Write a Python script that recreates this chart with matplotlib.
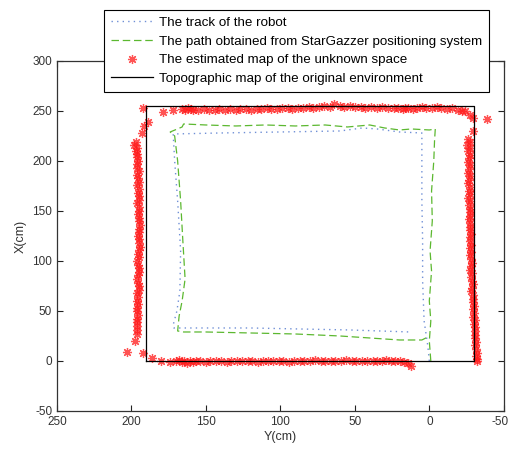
import matplotlib
matplotlib.use("Agg")
import matplotlib.pyplot as plt
from matplotlib.transforms import ScaledTranslation

plt.rcParams['font.family'] = ['Liberation Sans', 'DejaVu Sans']
plt.rcParams['axes.unicode_minus'] = False

# topographic map of the original environment (rectangle corners)
env_y = [190, -30, -30, 190, 190]
env_x = [0, 0, 255, 255, 0]

# track of the robot (dotted)
track_y = [0, 1, 3.5, 4.5, 4.5, 5, 5, 5, 20, 35, 45, 60, 100, 140, 172,
           171, 169, 167, 167.5, 169.5, 172, 171.5, 150, 120, 87, 53, 13]
track_x = [0, 15, 40, 80, 120, 160, 200, 228, 229, 232, 233, 230, 229, 228, 227,
           200, 160, 110, 70, 50, 36, 33, 33, 33, 32, 31, 29]

# path from StarGazzer (dashed)
star_y = [-1, 0, -1, 0, -1.5, -0.5, -2, -1.5, -3, -3.5, -4,
          0, 12, 20, 30, 40, 55, 70, 90, 110, 130, 150, 165, 166, 174,
          171, 169, 167, 165.5, 164, 166, 168, 169,
          165, 150, 120, 90, 60, 40, 20, 5, 1]
star_x = [0, 20, 40, 60, 90, 110, 140, 170, 200, 220, 232,
          231, 232, 231, 233, 236, 234, 236, 235, 236, 235, 236, 237, 234, 229,
          225, 200, 160, 120, 82, 60, 45, 30,
          29, 29, 28, 27, 25, 23, 21, 21, 24]

# estimated map points
left_x = [253, 239, 235, 228, 219, 216, 213, 210, 207, 204, 200, 197, 193, 190,
          186, 183, 179, 176, 172, 168, 165, 161, 158, 154, 150, 147, 143, 140,
          136, 132, 129, 125, 122, 118, 114, 111, 107, 104, 100, 96, 93, 89, 86,
          82, 78, 75, 71, 68, 64, 60, 57, 53, 50, 46, 42, 39, 35, 31, 27, 20,
          9, 8, 3]
left_y = [192, 189, 191.5, 193, 197, 198, 196.5, 197, 196, 196, 195.5, 196, 196, 195,
          196, 195.5, 195, 196, 195, 195.5, 195, 195, 196, 195, 195, 195.5, 195, 195,
          194.5, 195, 195, 195.5, 195, 195, 194.5, 195, 195.5, 195, 196, 195.5, 195,
          195, 195.5, 196, 195.5, 195, 195, 196, 195.5, 196, 195.5, 196, 196.5, 195.5,
          196, 196, 196.5, 196, 196, 197.5, 203, 192, 186]
top_y = [179, 172, 166, 164, 162, 160, 159, 155, 151, 148, 144, 141, 137, 134, 130,
         127, 123, 120, 116, 113, 109, 106, 102, 99, 95, 92, 88, 85, 81, 78, 74, 71,
         67, 64, 60, 57, 53, 50, 46, 43, 39, 35, 32, 28, 24, 21, 18, 16, 14, 11, 8,
         5, 2, -2, -5, -8, -12, -15, -19, -22, -24, -27, -29]
top_x = [249, 251, 252, 251, 253, 252, 251, 251, 252, 251, 251, 252, 251, 252, 251,
         252, 252, 251, 252, 252, 253, 252, 252, 253, 253, 252, 253, 253, 254, 253,
         254, 255, 254, 257, 255, 254, 255, 254, 254, 253, 254, 253, 254, 253, 253,
         253, 252, 253, 253, 252, 253, 254, 253, 253, 254, 253, 252, 253, 251, 250,
         250, 246, 243]
right_x = [242, 230, 222, 219, 216, 213, 210, 206, 203, 199, 196, 192, 188, 185, 181,
           178, 174, 170, 167, 163, 160, 156, 152, 149, 145, 142, 138, 134, 131, 127,
           124, 120, 116, 113, 109, 106, 102, 98, 95, 91, 88, 84, 80, 77, 73, 70, 66,
           62, 59, 55, 52, 48, 44, 41, 37, 34, 30, 26, 23, 19, 16, 12, 8, 5, 2, 0]
right_y = [-39, -29, -26, -27, -25.5, -27, -26, -27, -26.5, -26, -27, -26.5, -26, -27,
           -26.5, -26, -27, -26.5, -27, -26, -27, -26.5, -27, -27.5, -27, -26.5, -27,
           -27.5, -27, -28, -27, -27.5, -28, -27.5, -28, -27, -28, -28.5, -28, -27.5,
           -28.5, -28, -28.5, -29, -28.5, -28, -29, -29.5, -29, -30, -29.5, -30, -29.5,
           -30.5, -30, -30.5, -31, -30.5, -31, -31.5, -31, -31.5, -32, -31.5, -32, -32]
bottom_y = [180, 174, 170, 168, 166, 165, 163, 161, 159, 157, 154, 150, 147, 143, 140,
            136, 133, 129, 126, 122, 119, 115, 112, 108, 105, 101, 98, 94, 91, 87, 84,
            80, 77, 73, 70, 66, 63, 59, 56, 52, 49, 45, 42, 38, 35, 32, 29, 26, 23, 20,
            17, 14, 12]
bottom_x = [0, -1, 0, 1, -1, 0, -2, 0, -1, 0, 0, -1, 0, 0, 0, -1, 0, 0, 0, 0, 0, -1,
            0, 0, 0, 0, 0, -1, 0, 0, 0, 0, 1, 0, 0, 0, 0, 0, 1, 0, 0, 0, 0, 0, 0, 0,
            1, 0, 0, 0, -1, -2, -5]

map_y = left_y + top_y + right_y + bottom_y
map_x = left_x + top_x + right_x + bottom_x

fig = plt.figure(figsize=(5.1, 4.5), dpi=100)
ax = fig.add_axes([0.1118, 0.0867, 0.876, 0.7778])

ax.plot(track_y, track_x, ls=(0, (1, 3)), color='#6f8fd6', lw=1.0,
        label='The track of the robot')
ax.plot(star_y, star_x, ls=(0, (6, 3)), color='#5cb830', lw=0.9,
        label='The path obtained from StarGazzer positioning system')
ax.plot(map_y, map_x, ls='none', marker=(8, 2, 0), ms=6.5, mew=0.9,
        color='#ff1a1a', alpha=0.75, label='The estimated map of the unknown space')
ax.plot(env_y, env_x, '-', color='black', lw=0.9,
        label='Topographic map of the original environment')

ax.set_xlim(250, -50)
ax.set_ylim(-50, 300)
ax.set_xticks(range(250, -51, -50))
ax.set_yticks(range(-50, 301, 50))
ax.tick_params(direction='in', top=True, right=True, labelsize=8.5,
               length=4, width=0.8, colors='#222222', labelcolor='#333333')
for s in ax.spines.values():
    s.set_color('#333333')
    s.set_linewidth(0.9)
ax.set_xlabel('Y(cm)', fontsize=9, color='#333333', labelpad=2)
ax.set_ylabel('X(cm)', fontsize=9, color='#333333', labelpad=4)

# keep the last x tick label ("-50") inside the picture
last = ax.get_xticklabels()[-1]
last.set_transform(last.get_transform() + ScaledTranslation(-4 / 100, 0, fig.dpi_scale_trans))

leg = ax.legend(loc='upper center', bbox_to_anchor=(0.581, 0.978),
                bbox_transform=fig.transFigure, fontsize=9.6, numpoints=1,
                fancybox=False, framealpha=1, edgecolor='black',
                handlelength=3.2, handletextpad=0.4, labelspacing=0.48,
                borderpad=0.5, borderaxespad=0)
leg.get_frame().set_linewidth(0.8)

fig.savefig('out.png', dpi=100)
